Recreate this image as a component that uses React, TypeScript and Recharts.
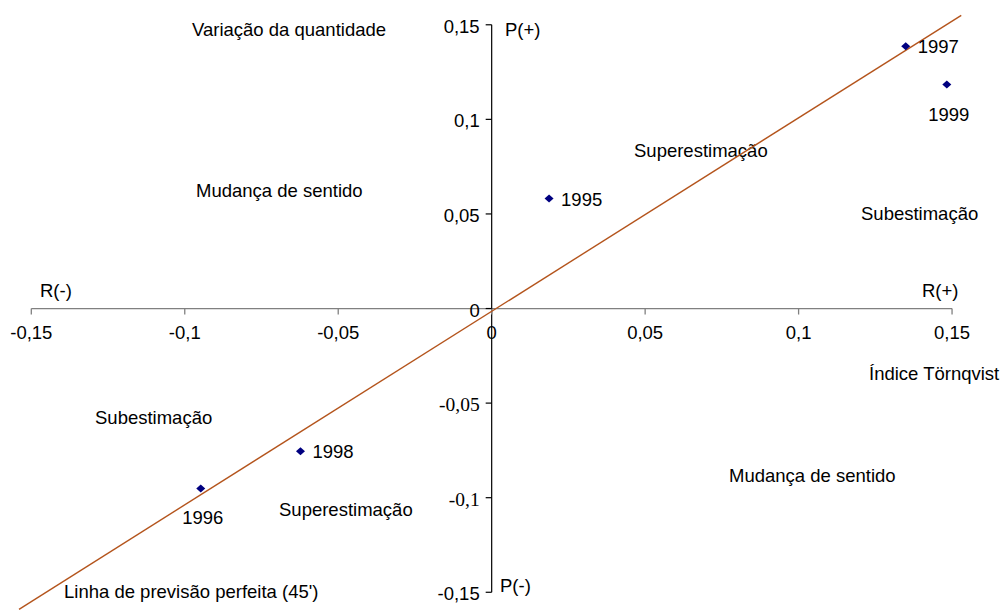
import React from 'react';
import {
  ScatterChart,
  Scatter,
  XAxis,
  YAxis,
  ReferenceLine,
  ReferenceDot,
  Customized,
} from 'recharts';

// Years of each observation
const years = ['1995', '1996', '1997', '1998', '1999'];
// Índice Törnqvist (horizontal) and variação da quantidade (vertical)
const tornqvist = [0.0187, -0.0948, 0.1349, -0.0623, 0.1483];
const variacao = [0.0581, -0.0951, 0.1386, -0.0754, 0.1184];

// Linha de previsão perfeita (45')
const perfectX = [-0.154, 0.153];
const perfectY = [-0.159, 0.155];

const xTicks = [-0.15, -0.1, -0.05, 0, 0.05, 0.1, 0.15];
const yTicks = [-0.15, -0.1, -0.05, 0, 0.05, 0.1, 0.15];
// a couple of y labels came out in Times in the original
const serifYTicks = [-0.1, -0.05];

// where each year label sits relative to its marker
const labelSide: Record<string, 'right' | 'below'> = {
  '1995': 'right',
  '1996': 'below',
  '1997': 'right',
  '1998': 'right',
  '1999': 'below',
};

const FONT = '"Liberation Sans", Arial, sans-serif';
const SERIF = '"Liberation Serif", "Times New Roman", serif';
const FS = 18.5;

const points = years.map((year, i) => ({ year, x: tornqvist[i], y: variacao[i] }));
const lineData = perfectX.map((x, i) => ({ x, y: perfectY[i] }));

const fmt = (v: number) => String(v).replace('.', ',');

const Diamond = (props: any) => {
  const { cx, cy, payload } = props;
  const side = labelSide[payload.year];
  return (
    <g>
      <polygon
        points={`${cx},${cy - 4} ${cx + 4.5},${cy} ${cx},${cy + 4} ${cx - 4.5},${cy}`}
        fill="#000080"
      />
      {side === 'right' ? (
        <text x={cx + 12} y={cy + 7} fontSize={FS} fontFamily={FONT} fill="#000">
          {payload.year}
        </text>
      ) : (
        <text x={cx + 2} y={cy + 36} fontSize={FS} fontFamily={FONT} fill="#000" textAnchor="middle">
          {payload.year}
        </text>
      )}
    </g>
  );
};

const XTick = (value: number) => (props: any) => {
  const { cx, cy } = props;
  return (
    <g>
      <line x1={cx} y1={cy} x2={cx} y2={cy + 6} stroke="#808080" strokeWidth={1.3} />
      <text x={cx} y={cy + 30} fontSize={FS} fontFamily={FONT} textAnchor="middle" fill="#000">
        {fmt(value)}
      </text>
    </g>
  );
};

const YTick = (value: number) => (props: any) => {
  const { cx, cy } = props;
  const serif = serifYTicks.includes(value);
  return (
    <g>
      <line x1={cx - 6} y1={cy} x2={cx} y2={cy} stroke="#000" strokeWidth={1.2} />
      <text
        x={cx - 12}
        y={cy + 8}
        fontSize={serif ? FS + 1 : FS}
        fontFamily={serif ? SERIF : FONT}
        textAnchor="end"
        fill="#000"
      >
        {fmt(value)}
      </text>
    </g>
  );
};

// free text notes placed on the page
const notes = [
  { text: 'Variação da quantidade', x: 192, y: 36 },
  { text: 'P(+)', x: 505, y: 36 },
  { text: 'Mudança de sentido', x: 196, y: 197 },
  { text: 'Superestimação', x: 634, y: 157 },
  { text: 'Subestimação', x: 861, y: 220 },
  { text: 'R(-)', x: 40, y: 297 },
  { text: 'R(+)', x: 922, y: 297 },
  { text: 'Índice Törnqvist', x: 869, y: 380 },
  { text: 'Subestimação', x: 95, y: 424 },
  { text: 'Mudança de sentido', x: 729, y: 482 },
  { text: 'Superestimação', x: 279, y: 516 },
  { text: 'Linha de previsão perfeita (45\')', x: 64, y: 598 },
  { text: 'P(-)', x: 500, y: 592 },
];

const Notes = () => (
  <g>
    {notes.map((n, i) => (
      <text key={i} x={n.x} y={n.y} fontSize={FS} fontFamily={FONT} fill="#000">
        {n.text}
      </text>
    ))}
  </g>
);

const App: React.FC = () => {
  return (
    <div style={{ position: 'absolute', left: 0, top: 0, background: '#fff' }}>
      <ScatterChart width={1003} height={611} margin={{ top: 0, right: 0, bottom: 0, left: 0 }}>
        <XAxis
          type="number"
          dataKey="x"
          domain={[-0.1602, 0.1666]}
          ticks={xTicks}
          allowDataOverflow
          hide
        />
        <YAxis
          type="number"
          dataKey="y"
          domain={[-0.1599, 0.1631]}
          ticks={yTicks}
          allowDataOverflow
          hide
        />
        {/* axes crossing at the origin */}
        <ReferenceLine
          segment={[{ x: xTicks[0], y: 0 }, { x: xTicks[xTicks.length - 1], y: 0 }]}
          stroke="#808080"
          strokeWidth={1.3}
          ifOverflow="visible"
        />
        <ReferenceLine
          segment={[{ x: 0, y: yTicks[0] }, { x: 0, y: yTicks[yTicks.length - 1] }]}
          stroke="#000"
          strokeWidth={1.2}
          ifOverflow="visible"
        />
        {xTicks.map((t) => (
          <ReferenceDot key={`x${t}`} x={t} y={0} r={0} shape={XTick(t)} ifOverflow="visible" />
        ))}
        {yTicks.map((t) => (
          <ReferenceDot key={`y${t}`} x={0} y={t} r={0} shape={YTick(t)} ifOverflow="visible" />
        ))}
        {/* perfect forecast line */}
        <Scatter
          data={lineData}
          line={{ stroke: '#b4541c', strokeWidth: 1.4 }}
          shape={() => null}
          isAnimationActive={false}
        />
        <Scatter data={points} shape={Diamond} isAnimationActive={false} />
        <Customized component={Notes} />
      </ScatterChart>
    </div>
  );
};

export default App;
